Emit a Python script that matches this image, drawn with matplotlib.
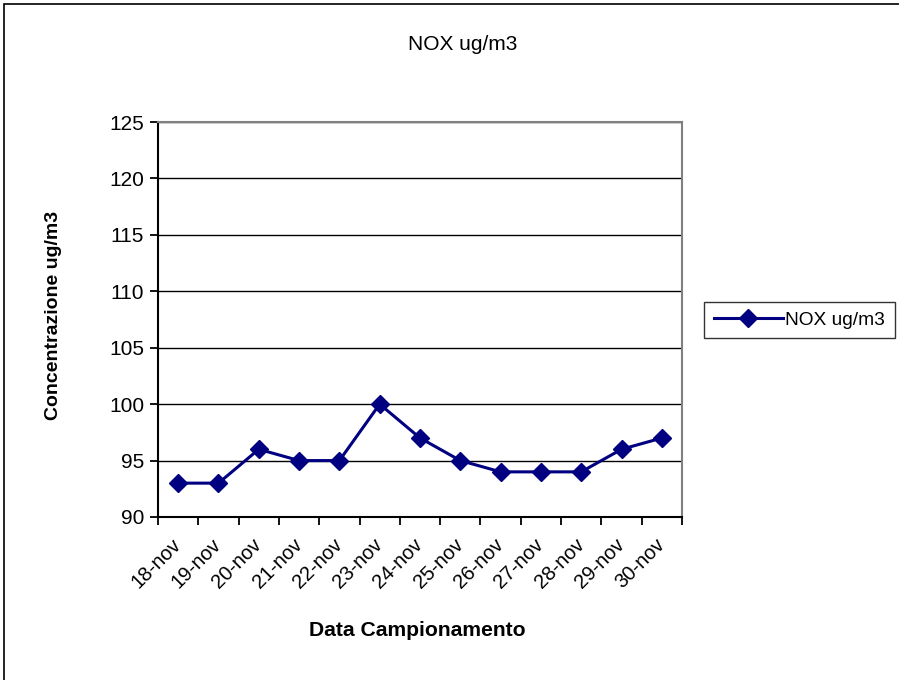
import matplotlib
matplotlib.use("Agg")
import matplotlib.pyplot as plt
from matplotlib.patches import Rectangle

plt.rcParams['font.family'] = ['Liberation Sans', 'DejaVu Sans']

dates = ["18-nov", "19-nov", "20-nov", "21-nov", "22-nov", "23-nov", "24-nov",
         "25-nov", "26-nov", "27-nov", "28-nov", "29-nov", "30-nov"]
nox = [93, 93, 96, 95, 95, 100, 97, 95, 94, 94, 94, 96, 97]
y_ticks = [90, 95, 100, 105, 110, 115, 120, 125]

W, H = 899, 680
fig = plt.figure(figsize=(W / 100, H / 100), dpi=100)
ax = fig.add_axes([158 / W, 1 - 517 / H, (682 - 158) / W, (517 - 122) / H])

x = list(range(len(dates)))
ax.plot(x, nox, color='#000080', lw=2.2, marker='D', markersize=9,
        markeredgecolor='#000080', markerfacecolor='#000080', label='NOX ug/m3', zorder=3)

ax.set_ylim(90, 125)
ax.set_yticks(y_ticks)
ax.set_yticklabels([str(v) for v in y_ticks])
ax.set_xlim(-0.5, len(dates) - 0.5)

# category boundaries carry the tick marks, labels sit at category centres
ax.set_xticks([i - 0.5 for i in range(len(dates) + 1)])
ax.set_xticklabels([])
ax.set_xticks(x, minor=True)
ax.set_xticklabels(dates, minor=True, rotation=45, ha='right', va='center',
                   rotation_mode='anchor', fontsize=14.5)
ax.tick_params(axis='x', which='minor', length=0, pad=18)
ax.tick_params(axis='x', which='major', length=6, width=1.3, color='black', direction='out')
ax.tick_params(axis='y', length=6, width=1.3, color='black', direction='out', labelsize=15, pad=4)

ax.yaxis.grid(True, color='black', lw=1)
ax.set_axisbelow(True)

for side in ('left', 'bottom'):
    ax.spines[side].set_color('black')
    ax.spines[side].set_linewidth(1.5)
for side in ('right', 'top'):
    ax.spines[side].set_color('#808080')
    ax.spines[side].set_linewidth(1.5)

fig.text(463 / W, 1 - 45 / H, 'NOX ug/m3', ha='center', va='center', fontsize=15)
fig.text(417 / W, 1 - 630 / H, 'Data Campionamento', ha='center', va='center',
         fontsize=15.2, fontweight='bold')
fig.text(54 / W, 1 - 315 / H, 'Concentrazione ug/m3', ha='center', va='center',
         rotation=90, fontsize=14, fontweight='bold')

leg = fig.legend(loc='center left', bbox_to_anchor=(704 / W, 1 - 320 / H),
                 fontsize=13.8, frameon=True, fancybox=False, borderpad=0.5,
                 handlelength=3.6, handletextpad=0.15, borderaxespad=0)
leg.get_frame().set_edgecolor('black')
leg.get_frame().set_linewidth(1.0)

# outer chart border (left and top edges visible)
fig.patches.append(Rectangle((3.5 / W, -0.1), 1.2, 1.1 - 4.5 / H,
                             transform=fig.transFigure, fill=False,
                             edgecolor='black', lw=1.2))

fig.savefig('out.png', dpi=100)
